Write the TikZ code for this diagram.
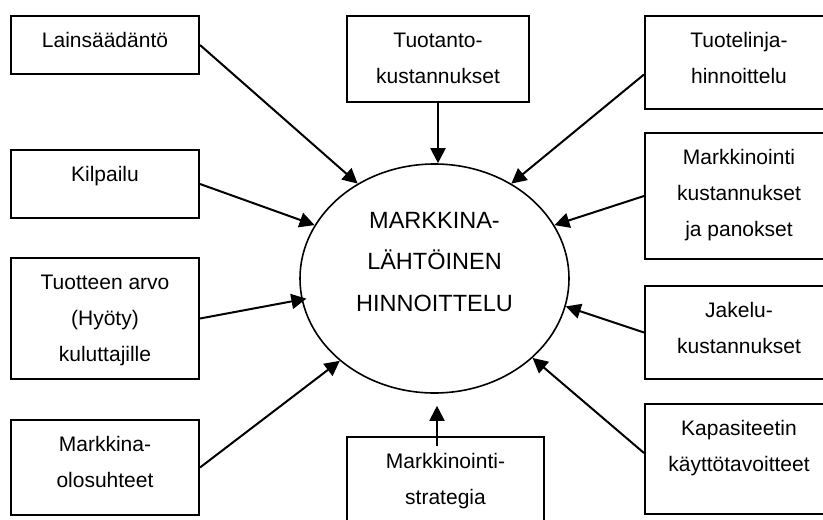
\documentclass[tikz,border=0pt]{standalone}
\usepackage{fontspec}
\setmainfont{Liberation Sans}
\usetikzlibrary{shapes.geometric,arrows.meta}

\newcommand{\factortext}[3]{\begin{minipage}[c][#1][t]{#2}\centering\rule{0pt}{31pt}#3\end{minipage}}

\tikzset{
  factor/.style={draw, line width=2pt, inner sep=0pt, font=\fontsize{21}{36}\selectfont},
  arr/.style={line width=2pt, -{Triangle[length=15pt,width=15pt]}},
  pricingring/.style={draw, ellipse, line width=1.6pt, inner sep=0pt, minimum width=269pt, minimum height=229pt}
}

\begin{document}
\begin{tikzpicture}[x=1pt,y=-1pt]
\useasboundingbox (0,0) rectangle (823,520);
\node[pricingring] (pricing) at (434.5,278.5){};
\node[font=\fontsize{23.5}{41.5}\selectfont, align=center] (pricingtext) at (434.5,262){MARKKINA-\\LÄHTÖINEN\\HINNOITTELU};
\node[factor] (law) at (105,45){\factortext{58pt}{188pt}{Lainsäädäntö}};
\node[factor] (comp) at (105,184){\factortext{68pt}{188pt}{Kilpailu}};
\node[factor] (value) at (105,318.5){\factortext{121pt}{188pt}{Tuotteen arvo\\(Hyöty)\\kuluttajille}};
\node[factor] (market) at (105,467.5){\factortext{95pt}{188pt}{Markkina-\\olosuhteet}};
\node[factor] (prod) at (438,59){\factortext{86pt}{182pt}{Tuotanto-\\kustannukset}};
\node[factor] (line) at (739,62.5){\factortext{93pt}{188pt}{Tuotelinja-\\hinnoittelu}};
\node[factor] (mcost) at (739,196){\factortext{126pt}{188pt}{Markkinointi\\kustannukset\\ja panokset}};
\node[factor] (dist) at (739,332.5){\factortext{93pt}{188pt}{Jakelu-\\kustannukset}};
\node[factor] (cap) at (739,459){\factortext{110pt}{188pt}{Kapasiteetin\\käyttötavoitteet}};
\node[factor] (strat) at (445.5,488.5){\factortext{103pt}{197pt}{Markkinointi-\\strategia}};
\draw[arr](law.east) -- (pricing.129);
\draw[arr](comp.east) -- (pricing.156);
\draw[arr, shorten >=-5pt](value.east) -- (pricing.189);
\draw[arr](market.east) -- (pricing.221);
\draw[arr](prod.south) -- (prod.south |- pricing.north);
\draw[arr]([yshift=-12pt]line.west) -- (pricing.51);
\draw[arr](mcost.west) -- (pricing.24);
\draw[arr](dist.west) -- (pricing.348);
\draw[arr]([yshift=6pt]cap.west) -- (pricing.321);
\draw[arr, shorten >=12pt]([xshift=-8.5pt,yshift=-10pt]strat.north) -- ([xshift=2.5pt]pricing.south);

\end{tikzpicture}
\end{document}
